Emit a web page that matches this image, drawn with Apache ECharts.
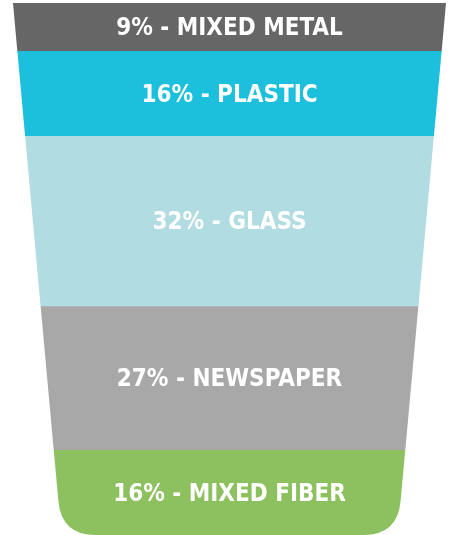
<!DOCTYPE html>
<html>
<head>
<meta charset="utf-8">
<script src="https://cdn.jsdelivr.net/npm/echarts@6/dist/echarts.min.js"></script>
<style>html,body{margin:0;padding:0;background:#fff;}#c{width:453px;height:535px;}</style>
</head>
<body>
<div id="c"></div>
<script>
var categories = ['MIXED METAL', 'PLASTIC', 'GLASS', 'NEWSPAPER', 'MIXED FIBER'];
var values = [9, 16, 32, 27, 16];
var colors = ['#666666', '#1cbfdc', '#b0dce2', '#a8a8a8', '#8dc05f'];

var CENTER = 229.5, TOP_HW = 216.5, BOT_HW = 168, RADIUS = 34;

var data = [];
var acc = 0;
for (var i = 0; i < values.length; i++) {
  data.push([acc, acc + values[i], i]);
  acc += values[i];
}
var total = acc;

function hw(v) { return TOP_HW + (BOT_HW - TOP_HW) * v / total; }

var chart = echarts.init(document.getElementById('c'), null, {renderer: 'canvas'});
chart.setOption({
  animation: false,
  grid: {left: 0, right: 0, top: 3, bottom: 0},
  xAxis: {type: 'value', min: 0, max: 453, show: false},
  yAxis: {type: 'value', min: 0, max: total, inverse: true, show: false},
  series: [{
    type: 'custom',
    data: data,
    renderItem: function (params, api) {
      var s = api.value(0), e = api.value(1), idx = api.value(2);
      var tl = api.coord([CENTER - hw(s), s]);
      var tr = api.coord([CENTER + hw(s), s]);
      var bl = api.coord([CENTER - hw(e), e]);
      var br = api.coord([CENTER + hw(e), e]);
      var shape;
      if (idx === values.length - 1) {
        var slope = (bl[0] - tl[0]) / (bl[1] - tl[1]);
        var ly = bl[1] - RADIUS, lx = bl[0] - slope * RADIUS;
        var rx = br[0] + slope * RADIUS;
        var pd = 'M' + tl[0] + ' ' + tl[1] + ' L' + tr[0] + ' ' + tr[1] +
          ' L' + rx + ' ' + ly + ' Q' + br[0] + ' ' + br[1] + ' ' + (br[0] - RADIUS) + ' ' + br[1] +
          ' L' + (bl[0] + RADIUS) + ' ' + bl[1] + ' Q' + bl[0] + ' ' + bl[1] + ' ' + lx + ' ' + ly + ' Z';
        shape = {type: 'path', shape: {pathData: pd}, style: {fill: colors[idx]}};
      } else {
        shape = {type: 'polygon', shape: {points: [tl, tr, [br[0], br[1] + 0.5], [bl[0], bl[1] + 0.5]]}, style: {fill: colors[idx]}};
      }
      var cy = (tl[1] + bl[1]) / 2 + 2;
      return {
        type: 'group',
        children: [shape, {
          type: 'text',
          x: CENTER, y: cy,
          style: {
            text: values[idx] + '% - ' + categories[idx],
            fill: '#ffffff',
            font: 'bold 24px "DejaVu Sans Condensed", "DejaVu Sans", sans-serif',
            align: 'center', verticalAlign: 'middle'
          }
        }]
      };
    }
  }]
});
</script>
</body>
</html>
